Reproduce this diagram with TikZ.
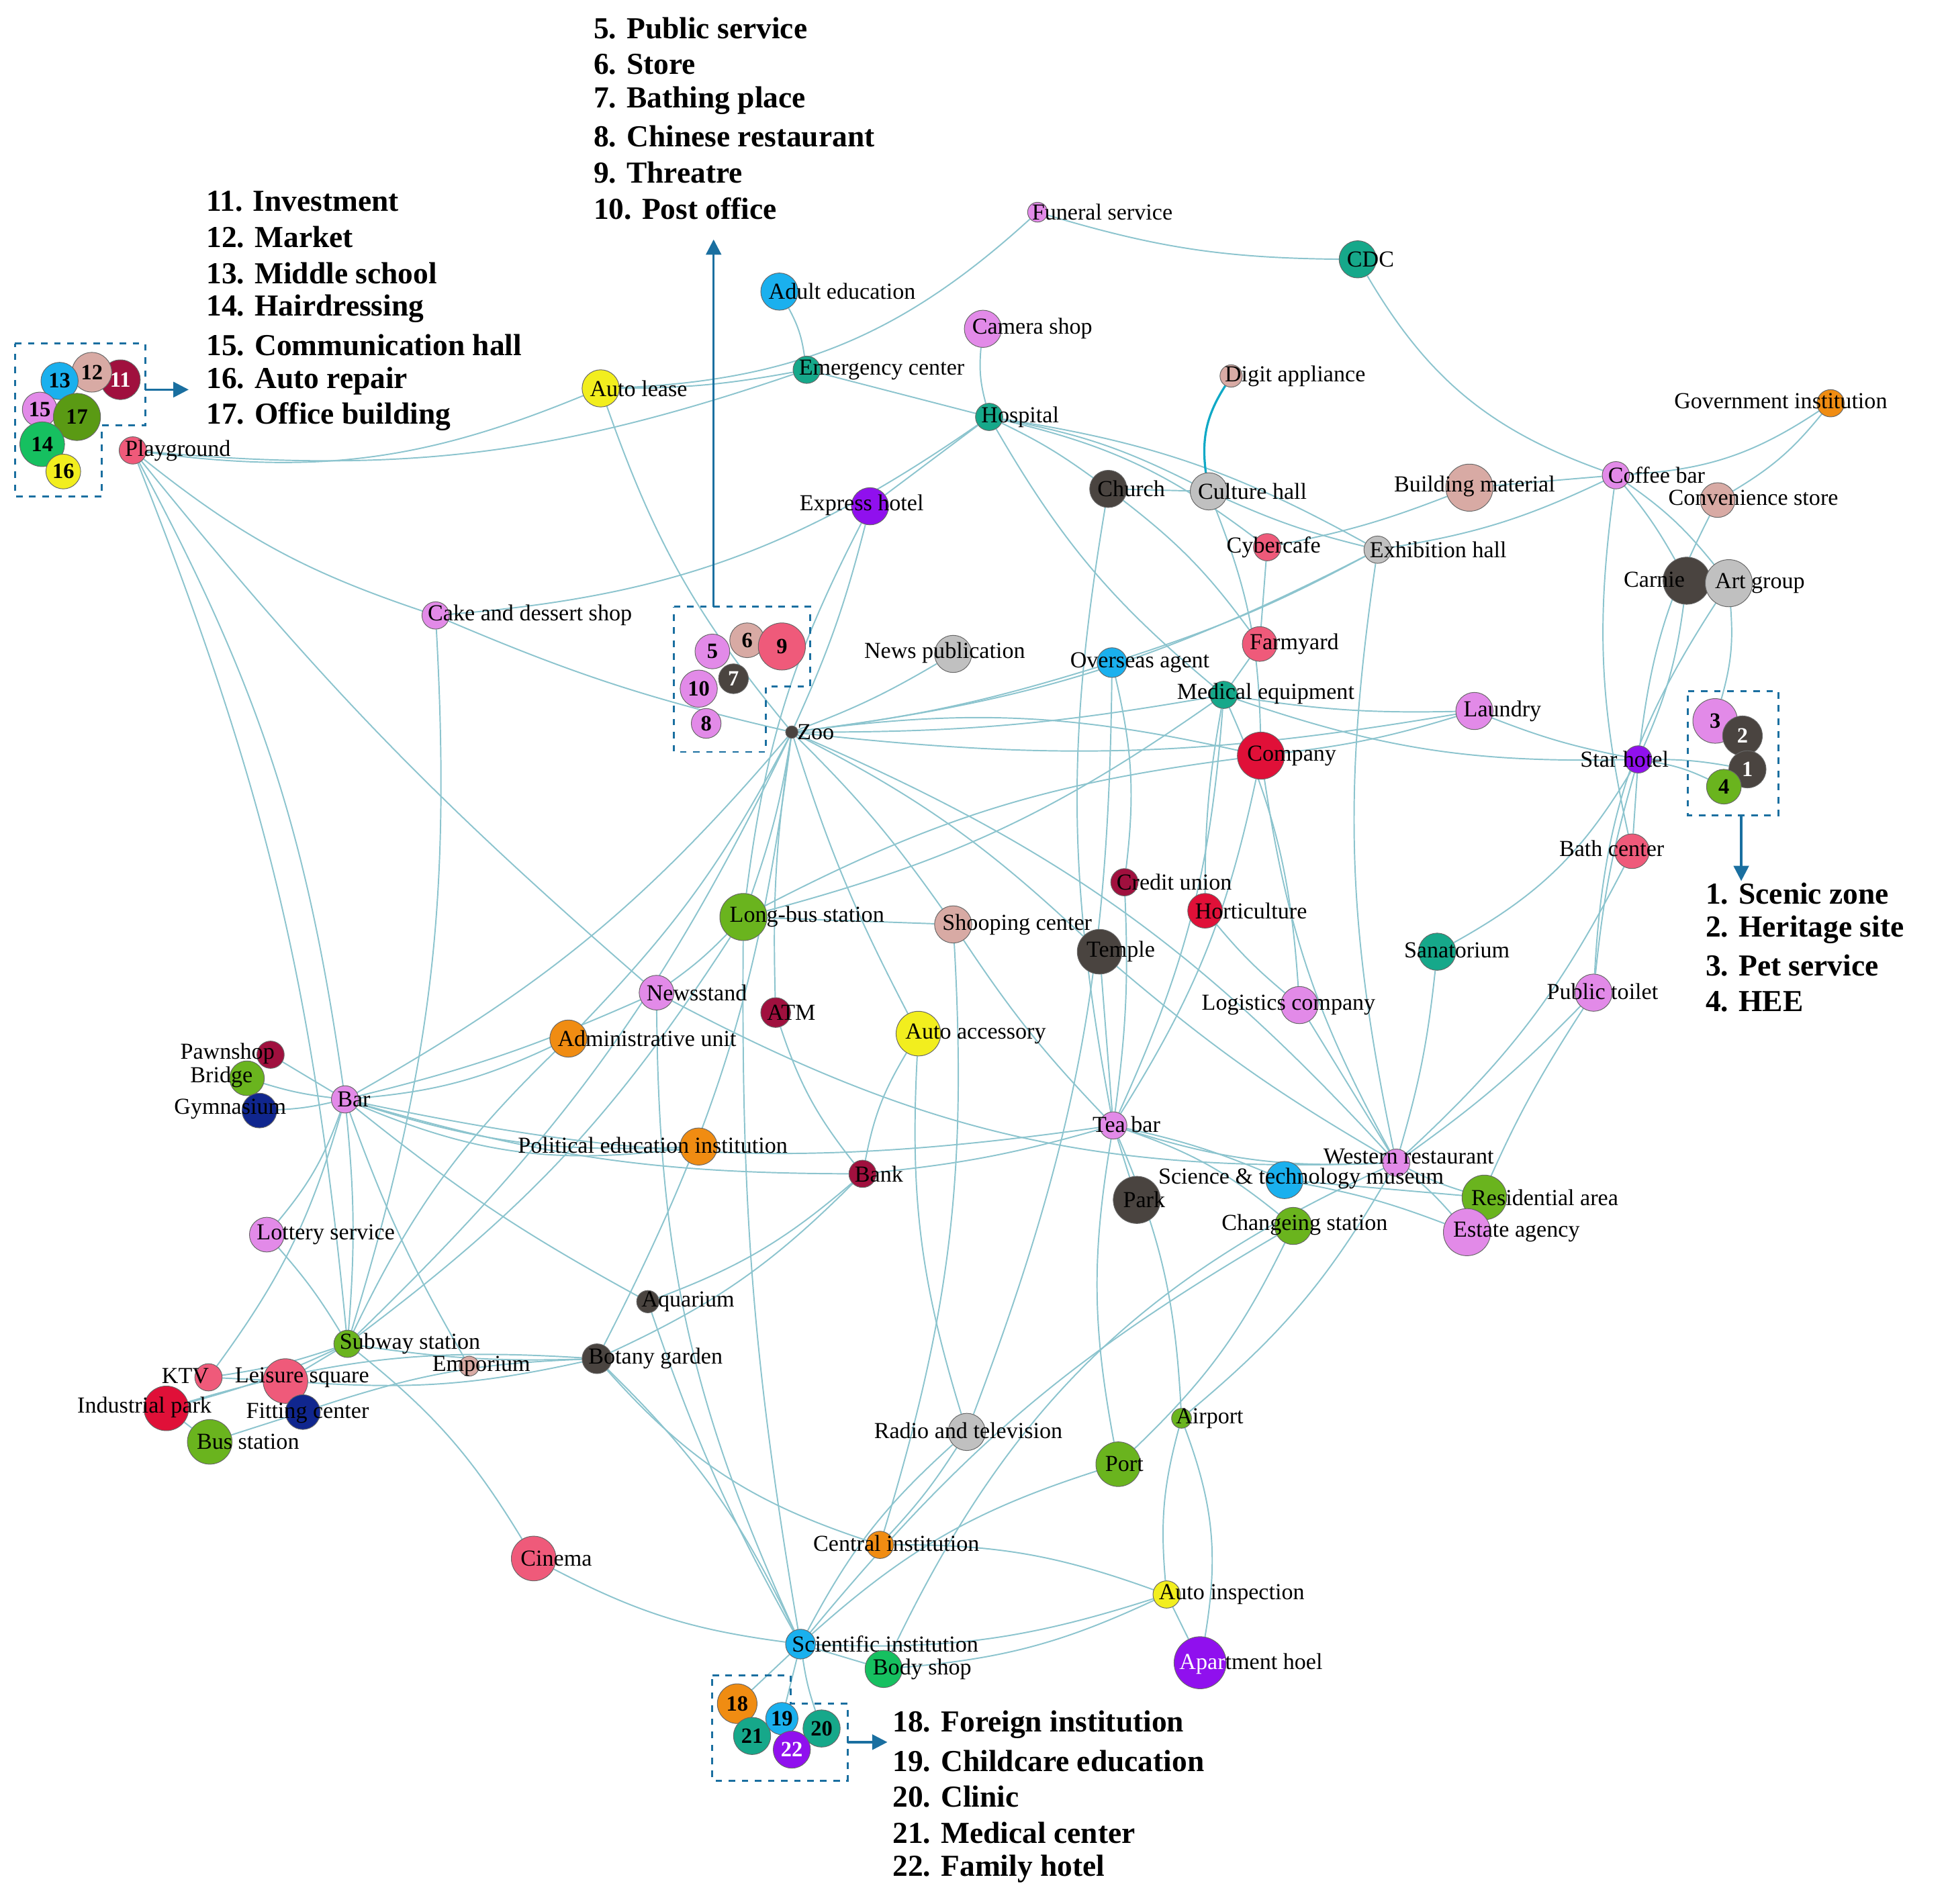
\documentclass[tikz,border=0pt]{standalone}
\usepackage{fontspec}
\setmainfont{Liberation Serif}
\usetikzlibrary{backgrounds,arrows.meta}
\definecolor{pv}{HTML}{E28AE8}\definecolor{pk}{HTML}{EF5A7A}\definecolor{cy}{HTML}{1AB0EE}
\definecolor{tl}{HTML}{16A88A}\definecolor{dg}{HTML}{4A4440}\definecolor{lg}{HTML}{C0C0C0}
\definecolor{rs}{HTML}{D8AAA4}\definecolor{yl}{HTML}{F2EE1E}\definecolor{gr}{HTML}{6AB41E}
\definecolor{og}{HTML}{F08C12}\definecolor{cr}{HTML}{E01038}\definecolor{mr}{HTML}{A0103E}
\definecolor{pu}{HTML}{9010EE}\definecolor{nv}{HTML}{10268E}\definecolor{bg}{HTML}{16C060}
\definecolor{ol}{HTML}{5A9A14}\definecolor{edgec}{HTML}{8CC4CE}\definecolor{boxc}{HTML}{1A6FA0}
\tikzset{
 dot/.style={circle,inner sep=0pt,draw=black!60,line width=0.3pt},
 lab/.style={font=\fontsize{10.5}{12}\selectfont,inner sep=0pt,anchor=west},
 leg/.style={font=\fontsize{14}{16}\selectfont\bfseries,inner sep=0pt,anchor=west},
 ed/.style={draw=edgec,line width=0.6pt},
 bx/.style={draw=boxc,dashed,line width=0.9pt},
 ar/.style={draw=boxc,line width=1pt,-{Triangle[length=7pt,width=7pt]}}
}
\newcommand{\mynode}[6]{\node[dot,fill=#5,minimum size={#4*0.04cm}] (#1) at (#2,#3) {};
 \node[lab] at ({#2-0.6*#4},#3) {#6};}
\newcommand{\numnode}[7]{\node[dot,fill=#5,minimum size={#4*0.04cm},text=#7,font=\fontsize{10}{11}\selectfont\bfseries] (#1) at (#2,#3) {#6};}
\begin{document}
\begin{tikzpicture}[x=0.02cm,y=-0.02cm]
\path[use as bounding box] (0,0) rectangle (1568,1534);
% numbered clusters
\numnode{n11}{97}{306}{16}{mr}{11}{white}
\numnode{n12}{74}{300}{16}{rs}{12}{black}
\numnode{n13}{48}{307}{15}{cy}{13}{black}
\numnode{n15}{32}{330}{14}{pv}{15}{black}
\numnode{n17}{62}{336}{19}{ol}{17}{black}
\numnode{n14}{34}{358}{18}{bg}{14}{black}
\numnode{n16}{51}{380}{14}{yl}{16}{black}
\numnode{n5}{574}{525}{14}{pv}{5}{black}
\numnode{n6}{602}{516}{14}{rs}{6}{black}
\numnode{n9}{630}{521}{19}{pk}{9}{black}
\numnode{n10}{563}{555}{15}{pv}{10}{black}
\numnode{n7}{591}{547}{12}{dg}{7}{white}
\numnode{n8}{569}{583}{12}{pv}{8}{black}
\numnode{n3}{1382}{581}{18}{pv}{3}{black}
\numnode{n2}{1404}{593}{16}{dg}{2}{white}
\numnode{n1}{1408}{620}{15}{dg}{1}{white}
\numnode{n4}{1389}{634}{14}{gr}{4}{black}
\numnode{n18}{594}{1373}{16}{og}{18}{black}
\numnode{n21}{606}{1399}{15}{tl}{21}{black}
\numnode{n19}{630}{1385}{13}{cy}{19}{black}
\numnode{n20}{662}{1393}{15}{tl}{20}{black}
\numnode{n22}{638}{1410}{15}{pu}{22}{white}
% named nodes
\mynode{play}{107}{363}{11}{pk}{Playground}
\mynode{alease}{484}{313}{15}{yl}{Auto lease}
\mynode{fun}{836}{171}{8}{pv}{Funeral service}
\mynode{cdc}{1094}{209}{15}{tl}{CDC}
\mynode{adult}{628}{235}{15}{cy}{Adult education}
\mynode{cam}{792}{265}{15}{pv}{Camera shop}
\mynode{emer}{650}{298}{11}{tl}{Emergency center}
\mynode{hosp}{797}{336}{11}{tl}{Hospital}
\mynode{digit}{992}{303}{9}{rs}{Digit appliance}
\mynode{gov}{1475}{325}{11}{og}{}
\node[lab,anchor=east] at (1521,323) {Government institution};
\mynode{expr}{701}{408}{15}{pu}{}
\node[lab] at (644,407) {Express hotel};
\mynode{church}{893}{394}{15}{dg}{Church}
\mynode{cult}{974}{396}{15}{lg}{Culture hall}
\mynode{build}{1184}{393}{19}{rs}{}
\node[lab] at (1123,392) {Building material};
\mynode{coffee}{1302}{383}{11}{pv}{Coffee bar}
\mynode{conv}{1384}{403}{14}{rs}{}
\node[lab] at (1344,401) {Convenience store};
\mynode{cyber}{1021}{441}{11}{pk}{}
\node[lab] at (988,441) {Cybercafe};
\mynode{exhib}{1110}{443}{11}{lg}{Exhibition hall}
\mynode{carnie}{1359}{468}{19}{dg}{}
\node[lab] at (1308,467) {Carnie};
\mynode{art}{1393}{470}{19}{lg}{Art group}
\mynode{cake}{351}{496}{11}{pv}{Cake and dessert shop}
\mynode{zoo}{638}{590}{5}{dg}{\hspace{4pt}Zoo}
\mynode{news}{768}{527}{15}{lg}{}
\node[lab] at (696,526) {News publication};
\mynode{overs}{896}{534}{12}{cy}{}
\node[lab] at (862,534) {Overseas agent};
\mynode{farm}{1015}{519}{14}{pk}{Farmyard}
\mynode{med}{986}{560}{11}{tl}{}
\node[lab] at (948,559) {Medical equipment};
\mynode{laund}{1188}{573}{15}{pv}{Laundry}
\mynode{comp}{1016}{609}{19}{cr}{Company}
\mynode{star}{1320}{612}{11}{pu}{}
\node[lab] at (1273,612) {Star hotel};
\mynode{bath}{1315}{686}{14}{pk}{}
\node[lab] at (1256,684) {Bath center};
\mynode{credit}{906}{711}{11}{mr}{Credit union}
\mynode{hort}{971}{734}{14}{cr}{Horticulture}
\mynode{longbus}{599}{739}{19}{gr}{Long-bus station}
\mynode{shop}{768}{745}{15}{rs}{Shooping center}
\mynode{temple}{886}{767}{18}{dg}{Temple}
\mynode{sana}{1158}{767}{15}{tl}{}
\node[lab] at (1131,766) {Sanatorium};
\mynode{toilet}{1284}{800}{15}{pv}{}
\node[lab] at (1246,799) {Public toilet};
\mynode{logis}{1047}{810}{15}{pv}{}
\node[lab] at (968,810) {Logistics company};
\mynode{newsst}{529}{800}{14}{pv}{Newsstand}
\mynode{atm}{625}{816}{12}{mr}{ATM}
\mynode{autoacc}{740}{833}{18}{yl}{Auto accessory}
\mynode{admin}{458}{837}{15}{og}{Administrative unit}
\mynode{pawn}{218}{850}{11}{mr}{}
\node[lab] at (145,849) {Pawnshop};
\mynode{bridge}{199}{869}{14}{gr}{}
\node[lab] at (153,868) {Bridge};
\mynode{gym}{209}{895}{14}{nv}{}
\node[lab] at (140,894) {Gymnasium};
\mynode{bar}{278}{886}{11}{pv}{Bar}
\mynode{tea}{897}{907}{11}{pv}{}
\node[lab] at (880,906) {Tea bar};
\mynode{polit}{563}{924}{15}{og}{}
\node[lab] at (417,923) {Political education institution};
\mynode{bank}{695}{946}{11}{mr}{Bank}
\mynode{west}{1125}{937}{11}{pv}{}
\node[lab] at (1066,932) {Western restaurant};
\mynode{sci}{1035}{951}{15}{cy}{}
\node[lab] at (933,950) {Science \& technology museum};
\mynode{park}{916}{967}{19}{dg}{Park}
\mynode{resid}{1196}{965}{18}{gr}{Residential area}
\mynode{change}{1042}{988}{15}{gr}{}
\node[lab] at (984,987) {Changeing station};
\mynode{estate}{1182}{993}{19}{pv}{Estate agency}
\mynode{lottery}{215}{995}{14}{pv}{Lottery service}
\mynode{aqua}{522}{1049}{9}{dg}{Aquarium}
\mynode{subway}{280}{1083}{11}{gr}{Subway station}
\mynode{empor}{378}{1101}{8}{rs}{}
\node[lab] at (348,1101) {Emporium};
\mynode{botany}{481}{1095}{12}{dg}{Botany garden}
\mynode{ktv}{168}{1110}{11}{pk}{}
\node[lab] at (130,1109) {KTV};
\mynode{leisure}{230}{1113}{18}{pk}{}
\node[lab] at (189,1110) {Leisure square};
\mynode{indus}{134}{1135}{18}{cr}{}
\node[lab] at (62,1134) {Industrial park};
\mynode{fit}{244}{1138}{14}{nv}{}
\node[lab] at (198,1139) {Fitting center};
\mynode{bus}{169}{1162}{18}{gr}{Bus station}
\mynode{radio}{779}{1154}{15}{lg}{}
\node[lab] at (704,1153) {Radio and television};
\mynode{airport}{952}{1143}{8}{gr}{Airport}
\mynode{port}{901}{1180}{18}{gr}{Port}
\mynode{cinema}{430}{1256}{18}{pk}{Cinema}
\mynode{central}{709}{1245}{11}{og}{}
\node[lab] at (655,1244) {Central institution};
\mynode{autoins}{940}{1285}{11}{yl}{Auto inspection}
\mynode{scient}{645}{1325}{12}{cy}{Scientific institution}
\mynode{body}{712}{1345}{15}{bg}{Body shop}
\mynode{apart}{967}{1340}{21}{pu}{}
\node[lab] at (950,1341) {\textcolor{white}{Apar}tment hoel};
% edges
\begin{pgfonlayer}{background}
\foreach \a/\b/\c in {
alease/fun/-20, fun/cdc/-8, cdc/coffee/-20, play/alease/-15, play/cake/-10, play/newsst/-5, play/bar/10, play/emer/-12, play/subway/8,
alease/zoo/-10, alease/emer/-5, cake/zoo/-5, cake/hosp/-15, cake/subway/10, adult/emer/10, cam/hosp/-10, emer/hosp/0, hosp/church/5, hosp/cult/8,
hosp/exhib/10, hosp/expr/0, hosp/cyber/12, hosp/med/-10, church/cult/0, cult/exhib/-5, cult/comp/10, church/farm/8, church/tea/-10,
build/coffee/0, build/cyber/5, coffee/gov/-15, coffee/carnie/5, coffee/art/8, coffee/bath/-10, coffee/exhib/8, conv/star/-10, conv/gov/-10,
carnie/star/8, art/n3/10, art/toilet/-15, exhib/overs/5, exhib/west/-10, exhib/zoo/10, cyber/farm/0, farm/med/0,
zoo/expr/-5, zoo/news/-5, zoo/overs/-5, zoo/med/-5, zoo/comp/10, zoo/laund/-8, zoo/longbus/5, zoo/shop/5, zoo/autoacc/-5, zoo/atm/-5,
zoo/admin/8, zoo/bar/10, zoo/subway/10, zoo/temple/8, zoo/west/12, zoo/botany/10, med/laund/-5, med/star/-10, med/hort/-5, med/logis/10,
med/tea/10, med/longbus/10, laund/star/-5, star/n1/5, star/n4/8, star/bath/0, star/toilet/-5, comp/tea/10, comp/longbus/-10, comp/west/-10,
comp/laund/-5, overs/credit/10, credit/tea/5, hort/logis/-5, temple/tea/0, temple/west/-5, shop/tea/-5, sana/star/-15, sana/west/5,
toilet/west/5, toilet/estate/-5, bath/west/10, logis/west/0, tea/west/-10, tea/sci/5, tea/change/10, tea/park/0, tea/bar/10, tea/bank/5,
tea/airport/10, tea/port/-10, west/resid/-5, west/estate/5, west/newsst/15, change/port/10, change/scient/-10, sci/resid/0, sci/estate/5,
newsst/bar/5, newsst/scient/-12, newsst/longbus/-5, atm/bank/-10, autoacc/bank/-10, admin/bar/10, admin/subway/-10, pawn/bar/0, bridge/bar/-5,
gym/bar/-5, bar/lottery/10, bar/ktv/10, bar/polit/-10, bar/bank/-8, bar/empor/-5, bar/aqua/-5, bar/subway/5, polit/bar/15, bank/aqua/10,
bank/botany/10, aqua/scient/-5, botany/subway/5, botany/leisure/8, botany/scient/10, botany/central/-15, subway/ktv/5, subway/leisure/0,
subway/indus/5, subway/cinema/10, subway/longbus/-10, lottery/subway/5, ktv/leisure/0, leisure/fit/0, fit/bus/0, bus/indus/0, indus/botany/10,
fit/botany/8, cinema/scient/-10, scient/n18/0, scient/n19/0, scient/n20/-5, scient/body/0, scient/port/12, scient/autoins/-10, scient/radio/10,
scient/longbus/5, central/autoins/10, central/radio/-5, central/shop/-10, radio/overs/-10, autoins/apart/0, autoins/airport/10, airport/west/-10,
apart/airport/-15, body/autoins/-10, body/west/20, longbus/expr/10, shop/longbus/0, radio/autoacc/10}
 \draw[ed] (\a) to[bend left=\c] (\b);
\draw[draw=boxc!60!cyan,line width=1pt] (digit) to[bend right=20] (cult);
\end{pgfonlayer}
% boxes and arrows
\draw[bx] (12,277)--(117,277)--(117,343)--(82,343)--(82,400)--(12,400)--cycle;
\draw[ar] (117,314)--(152,314);
\draw[bx] (543,489)--(653,489)--(653,553)--(617,553)--(617,606)--(543,606)--cycle;
\draw[ar] (575,489)--(575,193);
\draw[bx] (1360,557)--(1433,557)--(1433,657)--(1360,657)--cycle;
\draw[ar] (1403,657)--(1403,710);
\draw[bx] (574,1350)--(637,1350)--(637,1373)--(683,1373)--(683,1435)--(574,1435)--cycle;
\draw[ar] (683,1404)--(715,1404);
% legends
\foreach \t [count=\i from 0] in {5. Public service,6. Store,7. Bathing place,8. Chinese restaurant,9. Threatre,10. Post office}
 \node[leg] at (478,{23+29*\i}) {\t};
\foreach \t [count=\i from 0] in {11. Investment,12. Market,13. Middle school,14. Hairdressing,15. Communication hall,16. Auto repair,17. Office building}
 \node[leg] at (166,{162+29*\i}) {\t};
\foreach \t [count=\i from 0] in {1. Scenic zone,2. Heritage site,3. Pet service,4. HEE}
 \node[leg] at (1374,{720+29*\i}) {\t};
\foreach \t [count=\i from 0] in {18. Foreign institution,19. Childcare education,20. Clinic,21. Medical center,22. Family hotel}
 \node[leg] at (719,{1390+29*\i}) {\t};
\end{tikzpicture}
\end{document}
